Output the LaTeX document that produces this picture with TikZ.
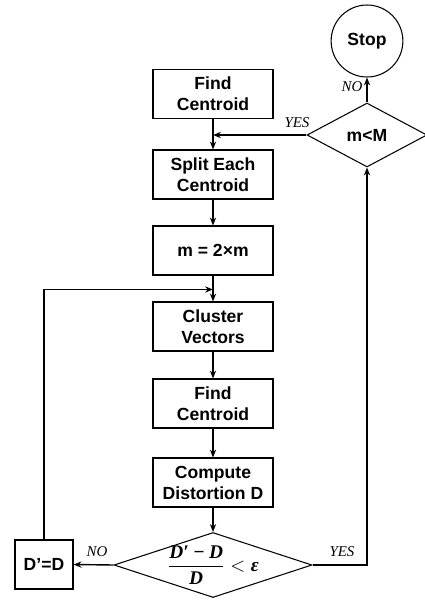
\documentclass[tikz,border=0pt]{standalone}
\usepackage{fontspec}
\setmainfont{Liberation Sans}
\newfontfamily\labelfont{Liberation Serif}
\usetikzlibrary{shapes.geometric,arrows.meta}
\newsavebox{\ratiobox}
\newcommand{\ratiofont}{\labelfont\bfseries\itshape}

\begin{document}
\savebox{\ratiobox}{\fontsize{11}{13}\selectfont$\displaystyle\frac{\mbox{\ratiofont D′}\mathbin{\mbox{\ratiofont −}}\mbox{\ratiofont D}}{\mbox{\ratiofont D}}<\mbox{\ratiofont ε}$}
\begin{tikzpicture}[x=0.02cm,y=-0.02cm,
        box/.style={draw,line width=0.6pt,minimum width=2.4cm,minimum height=0.98cm,align=center,font=\bfseries,inner sep=2pt},
        decision/.style={draw,shape=diamond,line width=0.6pt,inner sep=0pt},
        flow/.style={line width=0.8pt,-{Stealth[length=4.5pt,width=3.5pt]}},
        answer/.style={font=\labelfont\itshape\fontsize{8.5}{10}\selectfont,inner sep=1pt}]
    \useasboundingbox (0,0) rectangle (425,601);
    % main column
    \node [box] (find1) at (213,94) {Find\\Centroid};
    \node [box] (split) at (213,174.5) {Split Each\\Centroid};
    \node [box] (double) at (213,250.5) {m = 2×m};
    \node [box] (cluster) at (213,326.5) {Cluster\\Vectors};
    \node [box] (find2) at (213,403.5) {Find\\Centroid};
    \node [box] (compute) at (213,482.5) {Compute\\Distortion D};
    \node [decision,minimum width=3.96cm,minimum height=1.3cm] (ratio) at (213,565) {};
    \node (ratiotext) at (ratio) {\usebox{\ratiobox}};
    \node [box,minimum width=1.16cm] (update) at (44,564.5) {D’=D};
    % right column
    \node [decision,font=\bfseries,minimum width=2.4cm,minimum height=1.28cm] (count) at (367,135) {m<M};
    \node [draw,ellipse,line width=0.6pt,font=\bfseries,minimum width=1.34cm,minimum height=1.44cm] (stop) at (367,41) {Stop};
    \coordinate (loopin) at (213,289.5);
    % connectors
    \draw [flow] (find1) -- (split);
    \draw [flow] (split) -- (double);
    \draw [flow] (double) -- (cluster);
    \draw [flow] (cluster) -- (find2);
    \draw [flow] (find2) -- (compute);
    \draw [flow] (compute) -- (ratio);
    \draw [flow] (ratio.west) -- (update.east);
    \draw [flow] (update.north) |- (loopin);
    \draw [flow] (ratio.east) -| (count.south);
    \draw [flow] (count.west) -- (count.west -| find1.south);
    \draw [flow] (count.north) -- (stop.south);
    % answers
    \node [answer] (no1) at (97,552) {NO};
    \node [answer] (yes1) at (342,552) {YES};
    \node [answer] (yes2) at (297,123) {YES};
    \node [answer] (no2) at (352,87) {NO};
\end{tikzpicture}
\end{document}
